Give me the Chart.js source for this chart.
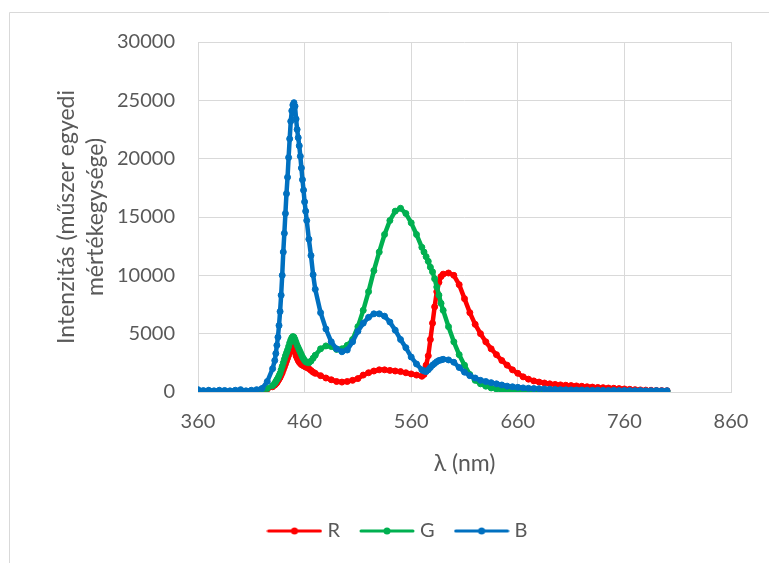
<!DOCTYPE html>
<html>
<head>
<meta charset="utf-8">
<script src="https://cdn.jsdelivr.net/npm/chart.js@4"></script>
<style>
  html, body { margin: 0; padding: 0; background: #fff; }
</style>
</head>
<body>
<canvas id="myChart" width="769" height="563"></canvas>
<script>
// wavelengths in nm (finer steps where the curves are steep)
var wavelengths = [
  360, 365, 370, 375, 380, 385, 390, 395, 400, 405, 410, 415, 420, 425, 430,
  432, 433, 434, 435, 436, 437, 438, 439, 440, 441, 442, 443, 444, 445, 446, 447,
  448, 449, 450, 451, 452, 453, 454, 455, 456, 457, 458, 459, 460, 461, 462,
  464, 466, 468, 470,
  475, 480, 485, 490, 495, 500, 505, 510, 515, 520, 525, 530, 535, 540, 545, 550,
  555, 560, 565, 570,
  572, 574, 576, 578, 580, 582, 584, 586, 588, 590,
  595, 600, 605, 610, 615, 620, 625, 630, 635, 640, 645, 650, 655, 660, 665, 670,
  675, 680, 685, 690, 695, 700, 705, 710, 715, 720, 725, 730, 735, 740, 745, 750,
  755, 760, 765, 770, 775, 780, 785, 790, 795, 800
];

var valuesR = [
  50, 30, 60, 20, 40, 30, 50, 20, 40, 30, 50, 60, 120, 250, 450,
  600, 700, 800, 950, 1100, 1250, 1450, 1650, 1900, 2150, 2400, 2650, 2900, 3150, 3400, 3650,
  3900, 4050, 3800, 3400, 3100, 2900, 2700, 2550, 2450, 2350, 2300, 2250, 2200, 2150, 2100,
  2000, 1850, 1700, 1600,
  1400, 1200, 1050, 900, 850, 900, 1000, 1150, 1450, 1650, 1800, 1900, 1900, 1850, 1800, 1750,
  1650, 1550, 1450, 1350,
  1500, 2300, 3100, 4500, 5900, 7300, 8600, 9400, 9900, 10100,
  10200, 10000, 9200, 8000, 6800, 5800, 5000, 4300, 3700, 3200, 2700, 2300, 1900, 1600, 1300, 1100,
  950, 850, 770, 700, 650, 610, 580, 550, 520, 490, 450, 420, 390, 370, 340, 320,
  290, 260, 230, 200, 180, 160, 150, 130, 120, 110
];

var valuesG = [
  100, 50, 80, 30, 60, 40, 50, 30, 60, 40, 50, 70, 150, 300, 550,
  750, 900, 1050, 1200, 1400, 1600, 1900, 2200, 2500, 2800, 3100, 3350, 3600, 3900, 4200, 4450,
  4650, 4750, 4700, 4500, 4250, 4000, 3800, 3600, 3400, 3200, 3000, 2850, 2700, 2600, 2550,
  2500, 2650, 2900, 3150,
  3700, 3950, 3900, 3650, 3700, 4000, 4500, 5600, 7000, 8600, 10400, 12000, 13500, 14700, 15500, 15750,
  15300, 14500, 13500, 12400,
  12000, 11600, 11200, 10700, 10300, 9700, 9000, 8300, 7600, 7000,
  5600, 4300, 3200, 2300, 1500, 1000, 700, 500, 350, 250, 200, 150, 120, 100, 80, 60,
  70, 50, 60, 40, 50, 60, 40, 50, 30, 50, 40, 60, 40, 30, 50, 40,
  30, 50, 40, 30, 40, 50, 30, 40, 30, 40
];

var valuesB = [
  200, 120, 150, 100, 150, 130, 100, 150, 200, 100, 150, 200, 300, 900, 2000,
  2700, 3300, 4000, 4700, 5700, 6900, 8300, 10000, 12000, 13600, 15300, 17000, 18400, 20100, 21700, 23200,
  24100, 24600, 24800, 24500, 23400, 22500, 21800, 21100, 20200, 19200, 18200, 17300, 16300, 15500, 14700,
  13100, 11700, 10050, 8800,
  6800, 5400, 4300, 3700, 3450, 3600, 4300, 5200, 5900, 6400, 6700, 6700, 6500, 6000, 5300, 4500,
  3800, 3000, 2400, 1900,
  1800, 1750, 1900, 2100, 2300, 2450, 2600, 2700, 2750, 2800,
  2750, 2550, 2100, 1700, 1400, 1200, 1000, 900, 800, 700, 600, 500, 450, 400, 350, 320,
  300, 280, 260, 240, 220, 200, 190, 180, 170, 170, 160, 150, 160, 140, 130, 140,
  120, 130, 120, 110, 120, 100, 110, 120, 100, 110
];

var seriesNames = ["R", "G", "B"];
var seriesColors = ["#ff0000", "#00b050", "#0070c0"];
var xTicks = { min: 360, max: 860, step: 100 };
var yTicks = { min: 0, max: 30000, step: 5000 };

var textColor = "#595959";
var gridColor = "#d9d9d9";
var fontFamily = "Lato, 'Open Sans', sans-serif";

function toPoints(values) {
  return wavelengths.map(function (x, i) {
    return { x: x, y: values[i] };
  });
}

// small picture for the legend: a line with a dot on it
function legendMark(color) {
  var c = document.createElement("canvas");
  c.width = 56;
  c.height = 10;
  var g = c.getContext("2d");
  g.strokeStyle = color;
  g.lineWidth = 3;
  g.lineCap = "round";
  g.beginPath();
  g.moveTo(2, 5);
  g.lineTo(54, 5);
  g.stroke();
  g.fillStyle = color;
  g.beginPath();
  g.arc(28, 5, 3.5, 0, Math.PI * 2);
  g.fill();
  return c;
}

var allValues = [valuesR, valuesG, valuesB];
var datasets = allValues.map(function (vals, i) {
  return {
    label: seriesNames[i],
    data: toPoints(vals),
    borderColor: seriesColors[i],
    backgroundColor: seriesColors[i],
    pointBackgroundColor: seriesColors[i],
    pointBorderColor: seriesColors[i],
    pointStyle: "circle",
    pointRadius: 3,
    pointBorderWidth: 1,
    borderWidth: 4.5,
    borderJoinStyle: "round",
    borderCapStyle: "round",
    order: 3 - i,
    showLine: true,
    fill: false
  };
});

// gray frame around the whole chart
var framePlugin = {
  id: "frame",
  beforeDraw: function (chart) {
    var ctx = chart.ctx;
    ctx.save();
    ctx.fillStyle = "#ffffff";
    ctx.fillRect(0, 0, chart.width, chart.height);
    ctx.strokeStyle = gridColor;
    ctx.lineWidth = 1;
    ctx.beginPath();
    ctx.moveTo(9.5, chart.height);
    ctx.lineTo(9.5, 12.5);
    ctx.lineTo(chart.width, 12.5);
    ctx.stroke();
    ctx.restore();
  },
  afterLayout: function (chart) {
    chart.legend.left += 29;
    chart.legend.right += 29;
  }
};

var ctx = document.getElementById("myChart").getContext("2d");
var myChart = new Chart(ctx, {
  type: "scatter",
  data: { datasets: datasets },
  plugins: [framePlugin],
  options: {
    responsive: false,
    animation: false,
    layout: { padding: { left: 10, right: 38, top: 42, bottom: 12 } },
    plugins: {
      tooltip: { enabled: false },
      legend: {
        position: "bottom",
        labels: {
          usePointStyle: true,
          pointStyleWidth: 46,
          padding: 24,
          color: textColor,
          font: { family: fontFamily, size: 20 },
          generateLabels: function (chart) {
            return chart.data.datasets.map(function (ds, i) {
              return {
                text: ds.label,
                fontColor: textColor,
                pointStyle: legendMark(seriesColors[i]),
                lineWidth: 0,
                strokeStyle: seriesColors[i],
                fillStyle: seriesColors[i],
                datasetIndex: i,
                hidden: false
              };
            });
          }
        }
      }
    },
    scales: {
      x: {
        type: "linear",
        min: xTicks.min,
        max: xTicks.max,
        afterFit: function (s) { s.height = 105; },
        grid: { color: gridColor, drawTicks: false },
        border: { color: gridColor },
        ticks: {
          stepSize: xTicks.step,
          padding: 18,
          color: textColor,
          font: { family: fontFamily, size: 20 },
          callback: function (v) { return String(v); }
        },
        title: {
          display: true,
          text: "λ (nm)",
          color: textColor,
          font: { family: fontFamily, size: 23 },
          padding: { top: 0, bottom: 20 }
        }
      },
      y: {
        min: yTicks.min,
        max: yTicks.max,
        afterFit: function (s) { s.width = 188; },
        grid: { color: gridColor, drawTicks: false },
        border: { display: false },
        ticks: {
          stepSize: yTicks.step,
          padding: 23,
          color: textColor,
          font: { family: fontFamily, size: 20 },
          callback: function (v) { return String(v); }
        },
        title: {
          display: true,
          text: ["Intenzitás (műszer egyedi", "mértékegysége)"],
          color: textColor,
          font: { family: fontFamily, size: 23, lineHeight: 1.22 },
          padding: { top: 43, bottom: 0 }
        }
      }
    }
  }
});
</script>
</body>
</html>
